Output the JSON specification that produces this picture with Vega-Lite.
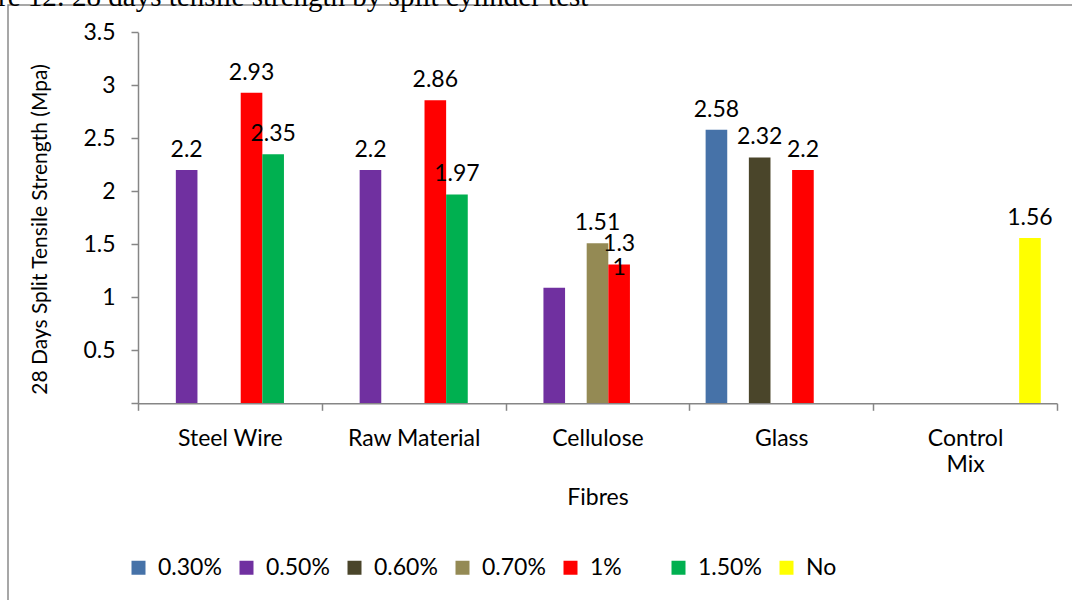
{
  "$schema": "https://vega.github.io/schema/vega-lite/v6.json",
  "autosize": {"type": "none"},
  "width": 1064,
  "height": 595,
  "padding": {"left": 8, "top": 5, "right": 0, "bottom": 0},
  "background": "white",
  "title": {
    "text": "re 12: 28 days tensile strength by split cylinder test",
    "anchor": "start",
    "frame": "group",
    "orient": "top",
    "offset": 0,
    "baseline": "alphabetic",
    "dx": -10,
    "dy": 30,
    "font": "Liberation Serif",
    "fontSize": 29,
    "fontWeight": "normal",
    "color": "#000000"
  },
  "data": {
    "values": [
      {"fibre": "Steel Wire", "content": "0.50%", "strength": 2.2, "label": "2.2"},
      {"fibre": "Steel Wire", "content": "1%", "strength": 2.93, "label": "2.93"},
      {"fibre": "Steel Wire", "content": "1.50%", "strength": 2.35, "label": "2.35"},
      {"fibre": "Raw Material", "content": "0.50%", "strength": 2.2, "label": "2.2"},
      {"fibre": "Raw Material", "content": "1%", "strength": 2.86, "label": "2.86"},
      {"fibre": "Raw Material", "content": "1.50%", "strength": 1.97, "label": "1.97"},
      {"fibre": "Cellulose", "content": "0.50%", "strength": 1.09, "label": null},
      {"fibre": "Cellulose", "content": "0.70%", "strength": 1.51, "label": "1.51"},
      {"fibre": "Cellulose", "content": "1%", "strength": 1.31, "label": "1.3\n1"},
      {"fibre": "Glass", "content": "0.30%", "strength": 2.58, "label": "2.58"},
      {"fibre": "Glass", "content": "0.60%", "strength": 2.32, "label": "2.32"},
      {"fibre": "Glass", "content": "1%", "strength": 2.2, "label": "2.2"},
      {"fibre": "Control Mix", "content": "No", "strength": 1.56, "label": "1.56"}
    ]
  },
  "encoding": {
    "x": {
      "field": "fibre",
      "type": "nominal",
      "sort": ["Steel Wire", "Raw Material", "Cellulose", "Glass", "Control Mix"],
      "scale": {"range": [130, 1049], "paddingInner": 0, "paddingOuter": 0},
      "axis": {
        "offset": -196.7,
        "tickBand": "extent",
        "domainColor": "#868686",
        "domainWidth": 1.5,
        "tickColor": "#868686",
        "tickWidth": 1.5,
        "tickSize": 7,
        "labelAngle": 0,
        "labelFont": "Lato",
        "labelFontSize": 23,
        "labelColor": "#000000",
        "labelPadding": 17,
        "labelLineHeight": 26,
        "labelExpr": "datum.label == 'Control Mix' ? ['Control', 'Mix'] : datum.label",
        "title": "Fibres",
        "titleFont": "Lato",
        "titleFontSize": 23,
        "titleFontWeight": "normal",
        "titleColor": "#000000",
        "titleBaseline": "alphabetic",
        "titleY": 101,
        "zindex": 1
      }
    },
    "xOffset": {
      "field": "content",
      "type": "nominal",
      "scale": {
        "domain": ["0.30%", "0.50%", "0.60%", "0.70%", "1%", "1.50%", "No"],
        "paddingInner": 0,
        "paddingOuter": 0.75
      }
    },
    "y": {
      "field": "strength",
      "type": "quantitative",
      "scale": {"domain": [0, 3.5], "range": [398.3, 27.3], "nice": false},
      "axis": {
        "values": [0, 0.5, 1, 1.5, 2, 2.5, 3, 3.5],
        "format": "~g",
        "labelExpr": "datum.value == 0 ? '' : datum.label",
        "offset": -130,
        "grid": false,
        "domainColor": "#868686",
        "domainWidth": 1.5,
        "tickColor": "#868686",
        "tickWidth": 1.5,
        "tickSize": 7,
        "labelFont": "Lato",
        "labelFontSize": 23,
        "labelColor": "#000000",
        "labelPadding": 16,
        "title": "28 Days Split Tensile Strength (Mpa)",
        "titleFont": "Lato",
        "titleFontSize": 21,
        "titleFontWeight": "normal",
        "titleColor": "#000000",
        "titleBaseline": "middle",
        "titleX": -98,
        "titleY": 224,
        "zindex": 1
      }
    }
  },
  "layer": [
    {
      "mark": {"type": "bar"},
      "encoding": {
        "color": {
          "field": "content",
          "type": "nominal",
          "scale": {
            "domain": ["0.30%", "0.50%", "0.60%", "0.70%", "1%", "1.50%", "No"],
            "range": ["#4672a8", "#7030a0", "#4a452a", "#948a54", "#ff0000", "#00b050", "#ffff00"]
          },
          "legend": {
            "title": null,
            "orient": "none",
            "legendX": 119,
            "legendY": 551,
            "direction": "horizontal",
            "columns": 7,
            "gridAlign": "all",
            "columnPadding": 13,
            "padding": 0,
            "symbolType": "square",
            "symbolSize": 196,
            "symbolStrokeWidth": 0,
            "labelFont": "Lato",
            "labelFontSize": 23,
            "labelColor": "#000000",
            "labelOffset": 8,
            "labelLimit": 200
          }
        }
      }
    },
    {
      "transform": [{"filter": "isValid(datum.label)"}],
      "mark": {
        "type": "text",
        "font": "Lato",
        "fontSize": 23,
        "color": "#000000",
        "baseline": "alphabetic",
        "dy": -13,
        "lineBreak": "\n",
        "lineHeight": 24
      },
      "encoding": {
        "text": {"field": "label", "type": "nominal"}
      }
    }
  ],
  "config": {
    "view": {
      "stroke": "#8a8a8a",
      "strokeWidth": 1.5,
      "strokeDash": [1064, 1659, 595]
    }
  }
}
